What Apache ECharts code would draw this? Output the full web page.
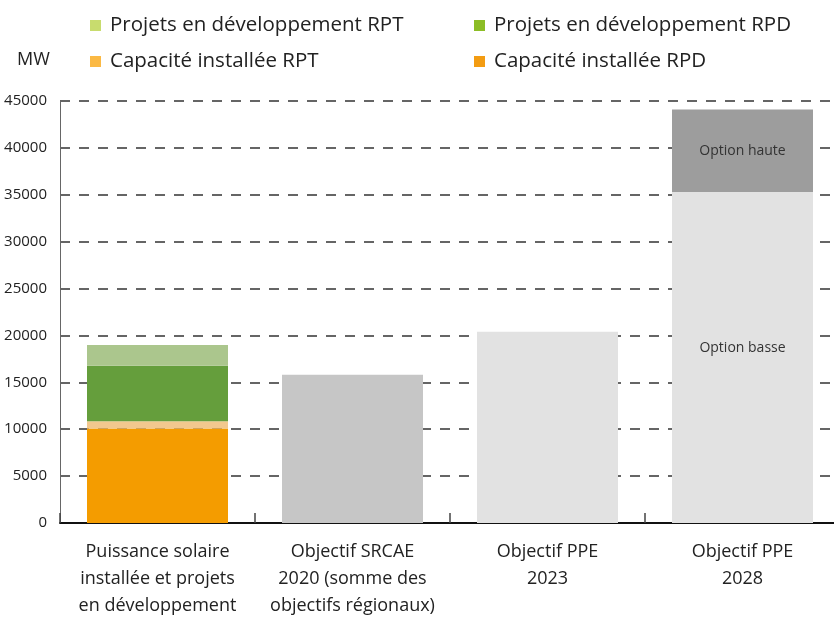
<!DOCTYPE html>
<html>
<head>
<meta charset="utf-8">
<script src="https://cdn.jsdelivr.net/npm/echarts@6/dist/echarts.min.js"></script>
<style>
  html, body { margin: 0; padding: 0; background: #fff; overflow: hidden; }
  #chart { width: 840px; height: 619px; }
</style>
</head>
<body>
<div id="chart"></div>
<script>
// catégories de l'axe x
const categories = [
  'Puissance solaire\ninstallée et projets\nen développement',
  'Objectif SRCAE\n2020 (somme des\nobjectifs régionaux)',
  'Objectif PPE\n2023',
  'Objectif PPE\n2028'
]

// valeurs en MW
const installeRPD = [10070, '-', '-', '-']
const installeRPT = [770, '-', '-', '-']
const projetsRPD = [5940, '-', '-', '-']
const projetsRPT = [2200, '-', '-', '-']
const objectifs = ['-', 15800, 20400, 35300]
const optionHaute = ['-', '-', '-', 8800]

const FONT = '"Open Sans", "Noto Sans", sans-serif'

// le graphique déborde de 6px à droite, comme l'original
let chart = echarts.init(document.getElementById('chart'))

function legendAt (name, color, left, top) {
  return {
    left: left,
    top: top,
    icon: 'rect',
    itemWidth: 11,
    itemHeight: 11,
    selectedMode: false,
    textStyle: { fontFamily: FONT, fontSize: 20.5, color: '#222', padding: [0, 0, 0, 4] },
    data: [{ name: name, itemStyle: { color: color } }]
  }
}

let option = {
  animation: false,
  title: {
    text: 'MW',
    left: 12,
    top: 46,
    textStyle: { fontFamily: FONT, fontSize: 18, fontWeight: 'normal', color: '#222' }
  },
  legend: [
    legendAt('Projets en développement RPT', '#c8dc6e', 85, 10),
    legendAt('Projets en développement RPD', '#8cbd26', 469, 10),
    legendAt('Capacité installée RPT', '#fbb944', 85, 46),
    legendAt('Capacité installée RPD', '#f39c12', 469, 46)
  ],
  grid: { left: 60, right: 0, top: 101, bottom: 92 },
  xAxis: {
    type: 'category',
    data: categories,
    axisLine: { lineStyle: { color: '#111', width: 2 } },
    axisTick: { show: true, interval: 0, inside: true, length: 10, lineStyle: { color: '#444', width: 1.5 } },
    axisLabel: { interval: 0, fontFamily: FONT, fontSize: 18, color: '#222', lineHeight: 27, margin: 15 }
  },
  yAxis: {
    type: 'value',
    min: 0,
    max: 45000,
    interval: 5000,
    axisLine: { show: true, lineStyle: { color: '#666', width: 1 } },
    axisTick: { show: false },
    axisLabel: { fontFamily: FONT, fontSize: 15, color: '#222', margin: 13, formatter: v => String(v) },
    splitLine: { lineStyle: { color: '#333', width: 1.5, type: [10, 9] } }
  },
  series: [
    {
      name: 'Capacité installée RPD', type: 'bar', stack: 'total', barWidth: 141,
      itemStyle: { color: '#f49c00' }, data: installeRPD
    },
    {
      name: 'Capacité installée RPT', type: 'bar', stack: 'total',
      itemStyle: { color: '#f2c88e' }, data: installeRPT
    },
    {
      name: 'Projets en développement RPD', type: 'bar', stack: 'total',
      itemStyle: { color: '#659e3c' }, data: projetsRPD
    },
    {
      name: 'Projets en développement RPT', type: 'bar', stack: 'total',
      itemStyle: { color: '#abc68d' }, data: projetsRPT
    },
    {
      name: 'Objectifs', type: 'bar', stack: 'total',
      data: objectifs.map((v, i) => ({
        value: v,
        itemStyle: { color: i === 1 ? '#c6c6c6' : '#e2e2e2' },
        label: i === 3
          ? { show: true, formatter: 'Option basse', offset: [0, -9] }
          : { show: false }
      })),
      label: { position: 'inside', fontFamily: FONT, fontSize: 14, color: '#333' }
    },
    {
      name: 'Option haute', type: 'bar', stack: 'total',
      itemStyle: { color: '#9d9d9d' },
      label: { show: true, position: 'inside', formatter: 'Option haute', fontFamily: FONT, fontSize: 14, color: '#333' },
      data: optionHaute
    }
  ]
}

chart.setOption(option)
</script>
</body>
</html>
